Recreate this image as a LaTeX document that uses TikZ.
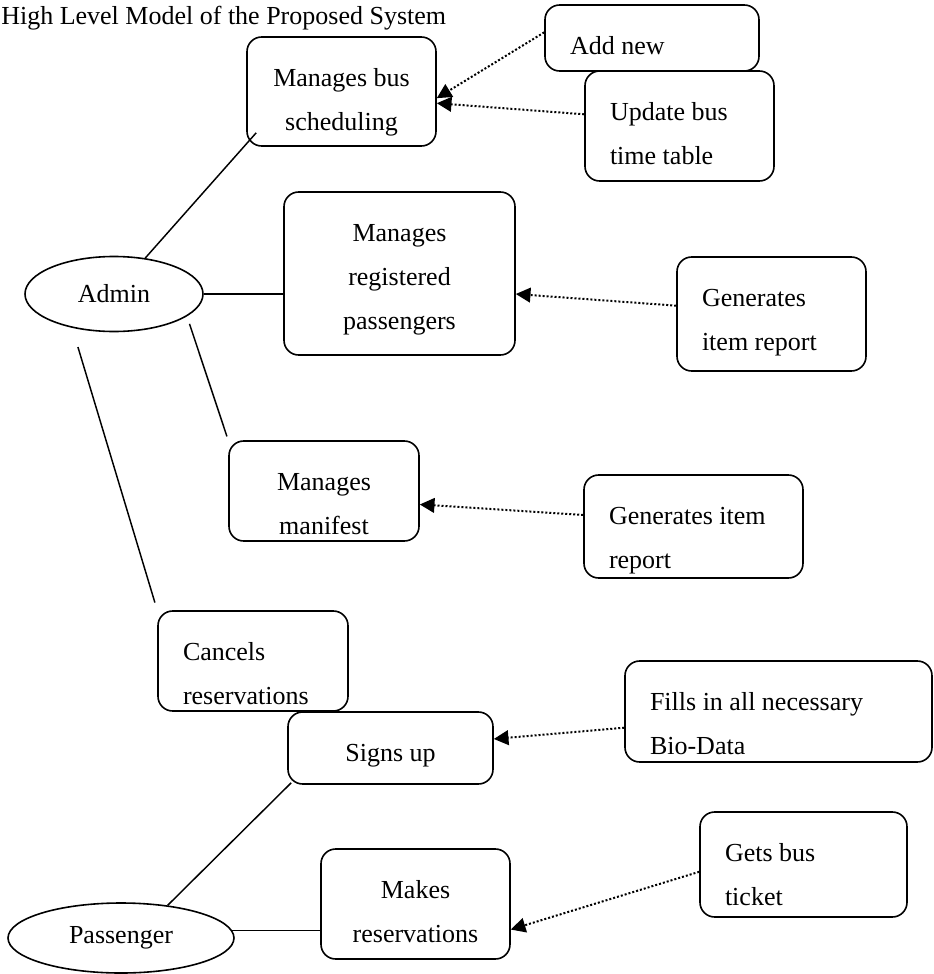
\documentclass[tikz,border=0pt]{standalone}
\usepackage{fontspec}
\setmainfont{Liberation Serif}
\usepackage{tikz}
\usetikzlibrary{shapes.geometric, calc}
\usetikzlibrary{arrows.meta}
\newcommand{\boxfont}{\fontsize{19.5}{33}\selectfont}
\tikzset{
  % text sits near the top of each box, as in the reference
  base/.style={draw, line width=1.2pt, rounded corners=11pt, font={\boxfont}, inner ysep=0pt, text height=37pt},
  proc/.style={base, rectangle, align=flush center, inner xsep=0pt},
  note/.style={base, rectangle, align=flush left, inner xsep=18.75pt},
  actor/.style={draw, line width=1.2pt, ellipse, inner sep=0pt, font={\boxfont}},
  % -------------------------------------------------
  % Connector line styles
  link/.style={draw, line width=1.1pt},
  feed/.style={draw, -{Triangle[length=11pt,width=11pt]}, line width=1.5pt, dash pattern=on 1.5pt off 1.5pt}
}

\begin{document}
\begin{tikzpicture}[x=0.75pt, y=-0.75pt]
\useasboundingbox (0,0) rectangle (934,974);

% -------------------------------------------------
% Title
\node [font={\boxfont}, anchor=base west, inner sep=0pt] (title) at (1,25) {High Level Model of the Proposed System};

% -------------------------------------------------
% Actors
\node [actor, minimum width=133.5pt, minimum height=56.25pt] (admin) at (114,294) {Admin};
\node [actor, minimum width=169.5pt, minimum height=52.5pt] (passenger) at (121,938) {Passenger};

% -------------------------------------------------
% Admin tasks
\node [proc, text width=141.75pt, text depth=44.75pt] (sched) at (341.5,91.5) {Manages bus\\scheduling};
\node [note, text width=123pt, text depth=12.5pt] (addnew) at (652,38) {Add new};
\node [note, text width=104.25pt, text depth=45.5pt] (update) at (679.5,126) {Update bus\\time table};
\node [proc, text width=173.25pt, text depth=85.25pt] (regpass) at (399.5,273.5) {Manages\\registered\\passengers};
\node [note, text width=104.25pt, text depth=48.5pt] (itemrep) at (771.5,314) {Generates\\item report};
\node [proc, text width=142.5pt, text depth=38pt] (manifest) at (324,491) {Manages\\manifest};
\node [note, text width=126.75pt, text depth=40.25pt] (manrep) at (693.5,526.5) {Generates item\\report};
\node [note, text width=105pt, text depth=38pt] (cancel) at (253,661) {Cancels\\reservations};

% -------------------------------------------------
% Passenger tasks
\node [proc, text width=153.75pt, text depth=17pt] (signup) at (390.5,748) {Signs up};
\node [note, text width=192.75pt, text depth=38.75pt] (biodata) at (778.5,711.5) {Fills in all necessary\\Bio-Data};
\node [proc, text width=141.75pt, text depth=45.5pt] (reserve) at (415.5,904) {Makes\\reservations};
\node [note, text width=117.75pt, text depth=41.75pt] (ticket) at (803.5,864.5) {Gets bus\\ticket};

% -------------------------------------------------
% Solid links from the actors
\draw [link] (admin.49) -- ($(sched.south west)+(10,-14)$);
\draw [link] (admin.east) -- (admin.east -| regpass.west);
\draw [link, shorten <=6pt, shorten >=3pt] (admin.-17) -- (manifest.north west);
\draw [link, shorten <=15pt, shorten >=6pt] (admin.-141) -- (cancel.north west);
\draw [link] (passenger.35) -- ($(signup.south west)+(4,-2)$);
\draw [link] (passenger.4) -- (passenger.4 -| reserve.west);

% -------------------------------------------------
% Dotted feeds
\draw [feed] (addnew.177) -- (sched.-4);
\draw [feed] (update.173) -- (sched.-7);
\draw [feed] (itemrep.175) -- (regpass.-10);
\draw [feed] (manrep.174) -- (manifest.-8);
\draw [feed] (biodata.186) -- (signup.5);
\draw [feed] (ticket.184) -- (reserve.-15);

\end{tikzpicture}
\end{document}
